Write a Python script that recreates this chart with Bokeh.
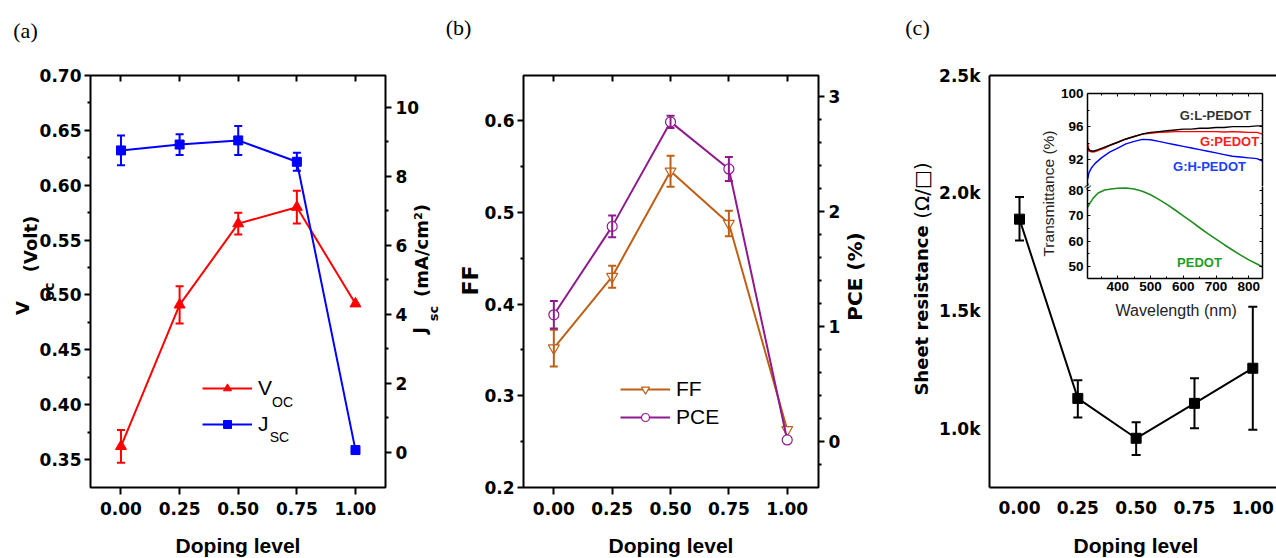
import math
from bokeh.plotting import figure
from bokeh.models import (Range1d, LinearAxis, FixedTicker, NumeralTickFormatter,
                          Whisker, TeeHead, ColumnDataSource, Label, Legend,
                          LegendItem, GridBox)
from bokeh.embed import file_html
from bokeh.resources import INLINE

# ---------------- data ----------------
doping = [0.00, 0.25, 0.50, 0.75, 1.00]
doping_ticks = [0.00, 0.25, 0.50, 0.75, 1.00]

voc = [0.362, 0.491, 0.565, 0.580, 0.492]
voc_err = [0.015, 0.017, 0.010, 0.015, 0.0]
jsc = [8.75, 8.92, 9.04, 8.42, 0.07]
jsc_err = [0.43, 0.30, 0.42, 0.26, 0.0]

ff = [0.352, 0.430, 0.545, 0.488, 0.263]
ff_err = [0.020, 0.012, 0.017, 0.014, 0.0]
pce = [1.10, 1.87, 2.78, 2.37, 0.01]
pce_err = [0.12, 0.095, 0.054, 0.105, 0.0]

rsheet = [1891, 1131, 962, 1110, 1259]
rsheet_hi = [1985, 1208, 1030, 1216, 1520]
rsheet_lo = [1801, 1050, 891, 1005, 998]

# inset: transmittance spectra
wl_gl = [308, 315, 325, 340, 360, 380, 400, 425, 450, 475, 500, 525, 550, 575,
         600, 625, 650, 675, 700, 725, 750, 775, 800, 825, 842]
t_gl = [93.4, 93.1, 93.0, 93.2, 93.5, 93.8, 94.1, 94.5, 94.8, 95.1, 95.3, 95.4,
        95.5, 95.6, 95.7, 95.7, 95.8, 95.8, 95.9, 95.9, 96.0, 96.0, 96.0, 96.1, 96.1]
wl_g = [308, 312, 325, 340, 360, 380, 400, 425, 450, 475, 500, 525, 550, 575,
        600, 625, 650, 675, 700, 725, 750, 775, 800, 825, 842]
t_g = [94.0, 93.0, 92.9, 93.1, 93.4, 93.8, 94.1, 94.5, 94.8, 95.1, 95.2, 95.3,
       95.35, 95.4, 95.4, 95.4, 95.4, 95.4, 95.4, 95.35, 95.4, 95.35, 95.3, 95.3, 95.1]
wl_gh = [308, 312, 320, 330, 350, 375, 400, 425, 450, 475, 500, 525, 550, 575,
         600, 625, 650, 675, 700, 725, 750, 775, 800, 825, 842]
t_gh = [89.6, 90.4, 91.0, 91.5, 92.2, 92.9, 93.4, 93.9, 94.2, 94.45, 94.4, 94.2,
        94.0, 93.8, 93.6, 93.4, 93.2, 93.0, 92.8, 92.6, 92.4, 92.3, 92.2, 92.1, 91.8]
wl_p = [308, 315, 325, 340, 360, 380, 400, 425, 450, 475, 500, 525, 550, 575,
        600, 625, 650, 675, 700, 725, 750, 775, 800, 825, 842]
t_p = [73.5, 75.0, 77.0, 79.0, 80.2, 80.6, 80.9, 81.0, 80.6, 79.7, 78.3, 76.5,
       74.5, 72.3, 70.0, 67.7, 65.3, 63.0, 60.8, 58.6, 56.5, 54.5, 52.6, 51.0, 49.8]

# tick positions
voc_ticks = [0.35, 0.40, 0.45, 0.50, 0.55, 0.60, 0.65, 0.70]
voc_minor = [0.375, 0.425, 0.475, 0.525, 0.575, 0.625, 0.675]
jsc_ticks = [0, 2, 4, 6, 8, 10]
jsc_minor = [1, 3, 5, 7, 9]
ff_ticks = [0.2, 0.3, 0.4, 0.5, 0.6]
ff_minor = [0.25, 0.35, 0.45, 0.55]
pce_ticks = [0, 1, 2, 3]
pce_minor = [-0.2, 0.2, 0.4, 0.6, 0.8, 1.2, 1.4, 1.6, 1.8, 2.2, 2.4, 2.6, 2.8]
rs_ticks = [1000, 1500, 2000, 2500]
wl_ticks = [400, 500, 600, 700, 800]
wl_minor = [350, 450, 550, 650, 750]
thi_ticks = [92, 96, 100]
thi_minor = [94, 98]
tlo_ticks = [50, 60, 70, 80]
tlo_minor = [55, 65, 75]

RED = "#FF0000"
BLUE = "#0000FF"
FF_C = "#BF5F16"
PCE_C = "#8E1A8E"
GREEN = "#1E8C1E"

TICKF = "DejaVu Sans"
SANS = "Liberation Sans"


def make_fig(left, top, width, height, fl, fr, ft, fb, xr, yr):
    p = figure(width=width, height=height,
               x_range=Range1d(*xr), y_range=Range1d(*yr),
               x_axis_location=None, y_axis_location=None,
               tools="", toolbar_location=None, output_backend="svg",
               min_border_left=fl - left, min_border_right=left + width - fr,
               min_border_top=ft - top, min_border_bottom=top + height - fb)
    p.margin = (top, 0, 0, left)
    p.frame_align = False
    p.border_fill_color = None
    p.background_fill_color = "white"
    p.outline_line_color = None
    p.xgrid.visible = False
    p.ygrid.visible = False
    return p


def axis(p, side, ticks, minor=(), fmt="0", tin=0, tout=0, min_in=0, min_out=0,
         labels=True, font=TICKF, size="17px", bold=True, standoff=3, rng=None,
         line=False, lw=2, tlw=2):
    kw = {}
    if rng:
        kw["y_range_name"] = rng
    ax = LinearAxis(ticker=FixedTicker(ticks=list(ticks), minor_ticks=list(minor)),
                    formatter=NumeralTickFormatter(format=fmt), **kw)
    ax.major_tick_in = tin
    ax.major_tick_out = tout
    ax.minor_tick_in = min_in
    ax.minor_tick_out = min_out
    ax.major_tick_line_width = tlw
    ax.minor_tick_line_width = tlw
    ax.major_tick_line_color = "black" if (tin or tout) else None
    ax.minor_tick_line_color = "black" if (min_in or min_out) else None
    ax.axis_line_color = "black" if line else None
    ax.axis_line_width = lw
    if labels:
        ax.major_label_text_font = font
        ax.major_label_text_font_size = size
        ax.major_label_text_font_style = "bold" if bold else "normal"
        ax.major_label_text_color = "black"
        ax.major_label_standoff = standoff
    else:
        ax.major_label_overrides = {t: "" for t in ticks}
        ax.major_label_text_font_size = "0px"
        ax.major_label_standoff = 0
    p.add_layout(ax, side)
    return ax


def err(p, x, lo, hi, color, rng=None, cap=8, lw=2):
    src = ColumnDataSource(dict(x=x, lo=lo, hi=hi))
    kw = {}
    if rng:
        kw["y_range_name"] = rng
    w = Whisker(source=src, base="x", lower="lo", upper="hi", dimension="height",
                line_color=color, line_width=lw, level="glyph",
                upper_head=TeeHead(size=cap, line_color=color, line_width=lw),
                lower_head=TeeHead(size=cap, line_color=color, line_width=lw), **kw)
    p.add_layout(w)


def bounds(vals, errs):
    xs, lo, hi = [], [], []
    for xv, v, e in zip(doping, vals, errs):
        if e > 0:
            xs.append(xv)
            lo.append(v - e)
            hi.append(v + e)
    return xs, lo, hi


def leg(items, loc, spacing):
    return Legend(items=items, location=loc, glyph_width=50, glyph_height=20,
                  label_height=20, label_width=10, spacing=spacing, label_standoff=6,
                  padding=0, margin=0, border_line_color=None,
                  background_fill_alpha=0, label_text_font=SANS,
                  label_text_font_size="21px", label_text_color="black")


# ---------------- panel (a) ----------------
pA = make_fig(0, 0, 440, 558, 90, 385, 75, 487, (-0.130, 1.128), (0.3245, 0.70))
pA.extra_y_ranges = {"j": Range1d(-1.014, 10.92)}
pA.outline_line_color = "black"
pA.outline_line_width = 2

axis(pA, "left", voc_ticks, voc_minor, fmt="0.00", tout=6, min_out=3, standoff=3)
axis(pA, "right", jsc_ticks, jsc_minor, fmt="0", tout=6, min_out=3, standoff=4, rng="j")
axis(pA, "below", doping_ticks, fmt="0.00", tout=7, standoff=7)
axis(pA, "above", doping_ticks, tin=6, labels=False)

xs, lo, hi = bounds(voc, voc_err)
err(pA, xs, lo, hi, RED)
xs, lo, hi = bounds(jsc, jsc_err)
err(pA, xs, lo, hi, BLUE, rng="j")
rv_l = pA.line(doping, voc, line_color=RED, line_width=2)
rv_s = pA.scatter(doping, voc, marker="triangle", size=11, fill_color=RED, line_color=RED)
rj_l = pA.line(doping, jsc, line_color=BLUE, line_width=2, y_range_name="j")
rj_s = pA.scatter(doping, jsc, marker="square", size=9, fill_color=BLUE, line_color=BLUE,
                  y_range_name="j")
pA.add_layout(leg([LegendItem(label="V", renderers=[rv_l, rv_s]),
                   LegendItem(label="J", renderers=[rj_l, rj_s])], (112, 51), 12))

# ---------------- panel (b) ----------------
pB = make_fig(430, 0, 440, 558, 523, 818, 75, 487, (-0.130, 1.134), (0.20, 0.6494))
pB.extra_y_ranges = {"pce": Range1d(-0.404, 3.184)}
pB.outline_line_color = "black"
pB.outline_line_width = 2

axis(pB, "left", ff_ticks, ff_minor, fmt="0.0", tout=6, min_out=3, standoff=3)
axis(pB, "right", pce_ticks, pce_minor, fmt="0", tout=6, min_out=3, standoff=4, rng="pce")
axis(pB, "below", doping_ticks, fmt="0.00", tout=7, standoff=7)
axis(pB, "above", doping_ticks, tin=6, labels=False)

xs, lo, hi = bounds(ff, ff_err)
err(pB, xs, lo, hi, FF_C)
xs, lo, hi = bounds(pce, pce_err)
err(pB, xs, lo, hi, PCE_C, rng="pce")
rf_l = pB.line(doping, ff, line_color=FF_C, line_width=2)
rf_s = pB.scatter(doping, ff, marker="inverted_triangle", size=11, fill_color="white",
                  line_color=FF_C, line_width=1.2)
rp_l = pB.line(doping, pce, line_color=PCE_C, line_width=2, y_range_name="pce")
rp_s = pB.scatter(doping, pce, marker="circle", size=10, fill_color="white",
                  line_color=PCE_C, line_width=1.2, y_range_name="pce")
pB.add_layout(leg([LegendItem(label="FF", renderers=[rf_l, rf_s]),
                   LegendItem(label="PCE", renderers=[rp_l, rp_s])], (97, 58), 4))

# ---------------- panel (c) ----------------
pC = make_fig(860, 0, 416, 558, 989, 1276, 75, 487, (-0.1286, 1.1016), (753.3, 2500))
axis(pC, "left", rs_ticks, fmt="0.0a", standoff=9, line=True)
axis(pC, "below", doping_ticks, fmt="0.00", standoff=13, line=True)
axis(pC, "above", doping_ticks, labels=False, line=True)

err(pC, doping, rsheet_lo, rsheet_hi, "black", cap=9)
pC.line(doping, rsheet, line_color="black", line_width=2)
pC.scatter(doping, rsheet, marker="square", size=10, fill_color="black", line_color="black")

# ---------------- inset (upper part of the broken axis) ----------------
pU = make_fig(1030, 80, 246, 106, 1087, 1262, 93, 186, (307.5, 841.8), (88.71, 100.04))
axis(pU, "left", thi_ticks, thi_minor, tin=3, min_in=2, font=SANS, size="13.5px",
     standoff=4, line=True, lw=1.5, tlw=1)
axis(pU, "right", thi_ticks, thi_minor, tin=3, min_in=2, labels=False, line=True,
     lw=1.5, tlw=1)
axis(pU, "above", wl_ticks, wl_minor, tin=3, min_in=2, labels=False, line=True,
     lw=1.5, tlw=1)
pU.line(wl_g, t_g, line_color=RED, line_width=1.4)
pU.line(wl_gl, t_gl, line_color="black", line_width=1.4)
pU.line(wl_gh, t_gh, line_color=BLUE, line_width=1.4)

# ---------------- inset (lower part of the broken axis) ----------------
pL = make_fig(1030, 168, 246, 162, 1087, 1262, 186, 278, (307.5, 841.8), (45.26, 81.58))
axis(pL, "left", tlo_ticks, tlo_minor, tin=3, min_in=2, font=SANS, size="13.5px",
     standoff=4, line=True, lw=1.5, tlw=1)
axis(pL, "right", tlo_ticks, tlo_minor, tin=3, min_in=2, labels=False, line=True,
     lw=1.5, tlw=1)
axis(pL, "below", wl_ticks, wl_minor, tin=3, min_in=2, font=SANS, size="13.5px",
     standoff=3, line=True, lw=1.5, tlw=1)
pL.line(wl_p, t_p, line_color=GREEN, line_width=1.6)

# ---------------- text layer (page pixel coordinates) ----------------
pT = figure(width=1276, height=558, x_range=Range1d(0, 1276), y_range=Range1d(558, 0),
            x_axis_location=None, y_axis_location=None, tools="",
            toolbar_location=None, output_backend="svg",
            min_border_left=0, min_border_right=0, min_border_top=0, min_border_bottom=0)
pT.frame_align = False
pT.border_fill_color = None
pT.background_fill_color = None
pT.outline_line_color = None
pT.xgrid.visible = False
pT.ygrid.visible = False

ROT = math.pi / 2


def text(px, py, s, size, font=TICKF, bold=True, color="black", angle=0.0):
    pT.add_layout(Label(x=px, y=py, text=s, text_font=font, text_font_size=size,
                        text_font_style="bold" if bold else "normal",
                        text_color=color, angle=angle, text_align="center",
                        text_baseline="middle"))


SERIF = "Liberation Serif"
text(25, 30, "(a)", "22px", font=SERIF, bold=False)
text(458, 27, "(b)", "22px", font=SERIF, bold=False)
text(917, 27, "(c)", "22px", font=SERIF, bold=False)

text(22, 307.5, "V", "18px", angle=ROT)
text(48, 291, "oc", "14px", angle=ROT)
text(30, 243.5, "(Volt)", "18px", angle=ROT)
text(419, 330, "J", "18px", angle=ROT)
text(433, 313, "sc", "13px", angle=ROT)
text(421, 250, "(mA/cm\u00b2)", "18px", angle=ROT)
text(282, 401, "OC", "14px", font=SANS, bold=False)
text(279, 436, "SC", "14px", font=SANS, bold=False)

text(470, 280, "FF", "22px", angle=ROT)
text(854, 276, "PCE (%)", "20px", angle=ROT)

text(921, 310, "Sheet resistance", "18px", angle=ROT)
text(921, 190, "(\u03a9/\u25a1)", "20px", bold=False, angle=ROT)

for cx in (237.5, 670.5, 1135.5):
    text(cx, 545, "Doping level", "21px", font=SANS)

text(1048, 193, "Transmittance (%)", "15.5px", font=SANS, bold=False,
     color="#222222", angle=ROT)
text(1175.7, 310, "Wavelength (nm)", "16px", font=SANS, bold=False, color="#222222")
text(1215, 115, "G:L-PEDOT", "13px", font=SANS, color="#333333")
text(1229, 141, "G:PEDOT", "13px", font=SANS, color="#FF2020")
text(1209, 166, "G:H-PEDOT", "13px", font=SANS, color="#2040FF")
text(1199, 262, "PEDOT", "13px", font=SANS, color="#1E9E1E")
text(1087, 186, "\u2248", "12px", font=SANS, bold=False, angle=ROT / 2)

layout = GridBox(children=[(pA, 0, 0), (pB, 0, 0), (pC, 0, 0), (pU, 0, 0),
                           (pL, 0, 0), (pT, 0, 0)])

open("out.html", "w").write(file_html(layout, INLINE))
